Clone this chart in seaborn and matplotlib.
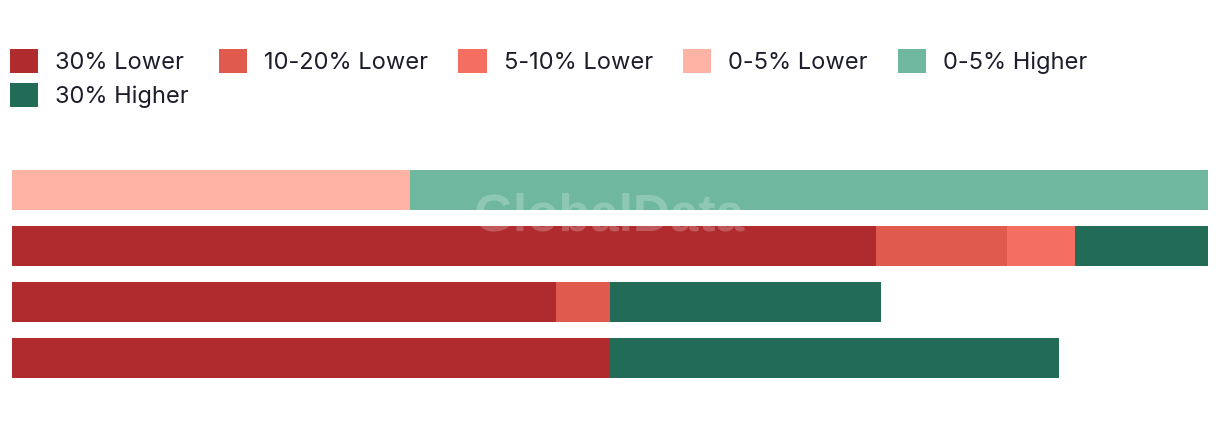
import matplotlib
matplotlib.use("Agg")
import matplotlib.pyplot as plt
import seaborn as sns
import numpy as np
import pandas as pd
from matplotlib.patches import Patch

# Data (share of the full bar width)
rows = ["Row 1", "Row 2", "Row 3", "Row 4"]
series = ["30% Lower", "10-20% Lower", "5-10% Lower", "0-5% Lower", "0-5% Higher", "30% Higher"]
lower_30 = [0, 72.2, 45.5, 50.0]
lower_10_20 = [0, 11.0, 4.5, 0]
lower_5_10 = [0, 5.7, 0, 0]
lower_0_5 = [33.3, 0, 0, 0]
higher_0_5 = [66.7, 0, 0, 0]
higher_30 = [0, 11.1, 22.7, 37.5]
colors = ["#AF2B2D", "#E05A4E", "#F46E61", "#FFB3A4", "#6FB89F", "#216B57"]

df = pd.DataFrame({
    "row": rows,
    "30% Lower": lower_30,
    "10-20% Lower": lower_10_20,
    "5-10% Lower": lower_5_10,
    "0-5% Lower": lower_0_5,
    "0-5% Higher": higher_0_5,
    "30% Higher": higher_30,
})
cum = df[series].cumsum(axis=1)

sns.set_style("white")
plt.rcParams["font.family"] = ["Inter", "DejaVu Sans"]

fig = plt.figure(figsize=(12.2, 4.22), dpi=100)
ax = fig.add_axes([12 / 1220, 44 / 422, 1196 / 1220, 208 / 422])

# stacked bars: draw the cumulative totals from the right-most segment back
for name, col in reversed(list(zip(series, colors))):
    sns.barplot(x=cum[name], y=df["row"], orient="h", color=col, saturation=1,
                width=40 / 56, linewidth=0, ax=ax)

ax.set_xlim(0, 100)
ax.set_ylim(3 + 20 / 56, -20 / 56)
ax.set_axis_off()

ax.text(0.5, 0.775, "GlobalData", transform=ax.transAxes, ha="center", va="center",
        fontsize=37, fontweight="bold", family="Liberation Sans", color="white",
        alpha=0.22, zorder=10)

# legend laid out row by row (matplotlib fills columns first)
handles = [Patch(facecolor=c, edgecolor="none", label=s) for s, c in zip(series, colors)]
order = [0, 5, 1, 2, 3, 4]
fig.legend(handles=[handles[i] for i in order], loc="upper left",
           bbox_to_anchor=(3 / 1220, 1 - 42 / 422),
           ncol=5, frameon=False, fontsize=17, labelcolor="#1d1d2b",
           handlelength=1.2, handleheight=1.2, handletextpad=0.72,
           columnspacing=1.27, labelspacing=0.38, borderaxespad=0, borderpad=0.3)

fig.savefig("out.png", dpi=100)
